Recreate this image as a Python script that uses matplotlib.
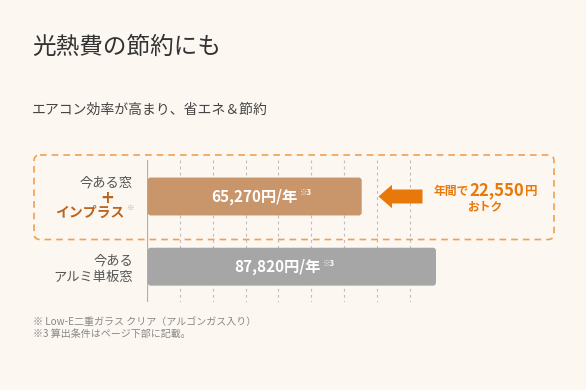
import matplotlib
matplotlib.use("Agg")
import matplotlib.pyplot as plt
from matplotlib.patches import FancyBboxPatch, FancyArrow

plt.rcParams['font.family'] = ['Noto Sans CJK JP', 'DejaVu Sans']

# --- data ---
values = [65270, 87820]
value_labels = ["65,270円/年", "87,820円/年"]
saving_label = "22,550円"
grid_ticks = [10000, 20000, 30000, 40000, 50000, 60000, 70000, 80000]

BG = "#FCF7F1"
BAR_COLORS = ["#C9956B", "#A6A6A6"]
ORANGE = "#E8780A"
BROWN = "#BA6420"

W, H = 586, 390
fig = plt.figure(figsize=(W / 100, H / 100), dpi=100, facecolor=BG)

# --- main bar axes (pixel placement) ---
ax_left, ax_right, ax_top, ax_bottom = 146.7, 476.1, 160, 302
ax = fig.add_axes([ax_left / W, (H - ax_bottom) / H,
                   (ax_right - ax_left) / W, (ax_bottom - ax_top) / H])
ax.set_facecolor("none")
ax.set_xlim(0, 100000)
ax.set_ylim(1.503, -0.52)
ax.axis("off")

ax.vlines(grid_ticks, -0.52, 1.503, colors="#BDBDBD", linewidth=0.8,
          linestyles=(0, (2.5, 3)), zorder=1)
ax.axvline(0, color="#B0B0B0", linewidth=0.9, zorder=1)

bar_h = 0.54
bars = ax.barh(range(len(values)), values, height=bar_h, color=BAR_COLORS)
px_per_x = (ax_right - ax_left) / 100000
px_per_y = 70.2
radius_px = 3.0
for b, c in zip(bars, BAR_COLORS):
    b.set_visible(False)
    p = FancyBboxPatch((b.get_x() + 300, b.get_y()), b.get_width() - 300, b.get_height(),
                       boxstyle=f"round,pad=0,rounding_size={radius_px / px_per_x}",
                       mutation_aspect=px_per_x / px_per_y,
                       facecolor=c, edgecolor="none", zorder=2)
    ax.add_patch(p)

label_shift = [0, -10]
for i, (v, lab) in enumerate(zip(values, value_labels)):
    t = ax.annotate(lab, xy=(v / 2, i), xytext=(label_shift[i], 0),
                    textcoords="offset points", ha="center", va="center",
                    color="white", fontsize=11, fontweight="bold", zorder=3)
    ax.annotate("※3", xy=(1, 0.45), xycoords=t, xytext=(1.5, 0),
                textcoords="offset points", ha="left", va="bottom",
                color="white", fontsize=5.5, fontweight="bold", zorder=3)

# --- overlay axes in pixel coordinates ---
ov = fig.add_axes([0, 0, 1, 1])
ov.set_xlim(0, W)
ov.set_ylim(H, 0)
ov.axis("off")
ov.set_facecolor("none")

ov.text(32, 47, "光熱費の節約にも", fontsize=17, color="#333333", va="center", ha="left")
ov.text(32, 110, "エアコン効率が高まり、省エネ＆節約", fontsize=10, color="#444444",
        va="center", ha="left")

box = FancyBboxPatch((34, 155), 520, 84.5, boxstyle="round,pad=0,rounding_size=6",
                     facecolor="none", edgecolor="#F0A050", linewidth=1.2,
                     linestyle=(0, (4, 3)))
ov.add_patch(box)

ov.text(133, 183, "今ある窓", fontsize=9.5, color="#555555", ha="right", va="center")
ov.text(107, 198, "+", fontsize=12, color=BROWN, ha="center", va="center",
        fontweight="bold", family="DejaVu Sans")
t = ov.text(124.5, 213, "インプラス", fontsize=10, color=BROWN, ha="right", va="center",
            fontweight="bold")
ov.annotate("※", xy=(1, 0.55), xycoords=t, xytext=(1.5, 0), textcoords="offset points",
            fontsize=5.5, color="#E6A07A", ha="left", va="bottom")
ov.text(133, 261.5, "今ある", fontsize=9.5, color="#555555", ha="right", va="center")
ov.text(133, 277, "アルミ単板窓", fontsize=9.5, color="#555555", ha="right", va="center")

ov.add_patch(FancyArrow(422.5, 196.5, -44, 0, width=14, head_width=23.5,
                        head_length=13.5, length_includes_head=True,
                        color=ORANGE, linewidth=0))
ov.text(469, 195, "年間で", fontsize=8.5, color=ORANGE, fontweight="bold",
        ha="right", va="baseline")
ov.text(469, 195, saving_label[:-1], fontsize=12, color=ORANGE, fontweight="bold",
        ha="left", va="baseline")
ov.annotate("円", xy=(537, 195), fontsize=9, color=ORANGE, fontweight="bold",
            ha="right", va="baseline")
ov.text(485, 207, "おトク", fontsize=8.5, color=ORANGE, fontweight="bold",
        ha="center", va="center")

ov.text(33, 321.5, "※ Low-E二重ガラス クリア（アルゴンガス入り）", fontsize=7.2,
        color="#888888", ha="left", va="center")
ov.text(33, 333.5, "※3 算出条件はページ下部に記載。", fontsize=7.2,
        color="#888888", ha="left", va="center")

fig.savefig("out.png", dpi=100, facecolor=BG)
